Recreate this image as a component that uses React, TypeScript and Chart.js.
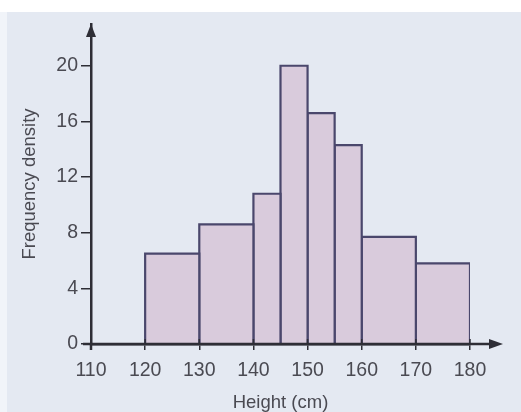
import { useEffect, useRef } from 'react';
import { Chart, registerables } from 'chart.js';

Chart.register(...registerables);

// ---- data ----
const binEdges = [120, 130, 140, 145, 150, 155, 160, 170, 180];
const densities = [6.5, 8.6, 10.8, 20, 16.6, 14.3, 7.7, 5.8];
const xTicks = [110, 120, 130, 140, 150, 160, 170, 180];
const yTicks = [0, 4, 8, 12, 16, 20];
const xTitle = 'Height (cm)';
const yTitle = 'Frequency density';

// ---- styles ----
const W = 521;
const H = 412;
const PANEL = '#e4e9f2';
const BAR_FILL = '#d9cbdc';
const BAR_EDGE = '#4a476c';
const AXIS = '#2e2e36';
const TEXT = '#4a4a52';
const FONT = "'Liberation Sans', Arial, sans-serif";

const decor = {
  id: 'decor',
  beforeDraw(chart: any) {
    const c = chart.ctx;
    c.save();
    c.fillStyle = '#ffffff';
    c.fillRect(0, 0, W, H);
    c.fillStyle = '#f1f4f9';
    c.fillRect(0, 12, 7, H - 12);
    c.fillStyle = PANEL;
    c.fillRect(7, 12, W - 7, H - 12);
    c.restore();
  },
  afterDraw(chart: any) {
    const c = chart.ctx;
    const x = chart.scales.x;
    const y = chart.scales.y;
    const x0 = x.getPixelForValue(x.min);
    const y0 = y.getPixelForValue(0);
    const top = chart.chartArea.top;
    const right = chart.chartArea.right;
    c.save();
    c.strokeStyle = AXIS;
    c.fillStyle = AXIS;
    c.lineWidth = 2.5;
    // x-axis line extension
    c.beginPath();
    c.moveTo(x0 - 8, y0);
    c.lineTo(right + 22, y0);
    c.stroke();
    // y-axis extension below
    c.beginPath();
    c.moveTo(x0, y0);
    c.lineTo(x0, y0 + 6);
    c.stroke();
    // x tick marks above the axis
    c.lineWidth = 1.5;
    xTicks.forEach((t) => {
      const px = x.getPixelForValue(t);
      c.beginPath();
      c.moveTo(px, y0 - 5);
      c.lineTo(px, y0);
      c.stroke();
    });
    // x arrow
    c.beginPath();
    c.moveTo(right + 33, y0);
    c.lineTo(right + 19, y0 - 5);
    c.lineTo(right + 19, y0 + 5);
    c.closePath();
    c.fill();
    // y arrow
    c.beginPath();
    c.moveTo(x0, top);
    c.lineTo(x0 - 5, top + 13);
    c.lineTo(x0 + 5, top + 13);
    c.closePath();
    c.fill();
    c.restore();
  },
};

export default function App() {
  const ref = useRef<HTMLCanvasElement | null>(null);

  useEffect(() => {
    if (!ref.current) return;
    const datasets = densities.map((d, i) => ({
      data: [
        { x: binEdges[i], y: 0 },
        { x: binEdges[i], y: d },
        { x: binEdges[i + 1], y: d },
        { x: binEdges[i + 1], y: 0 },
      ],
      showLine: true,
      fill: 'origin',
      backgroundColor: BAR_FILL,
      borderColor: BAR_EDGE,
      borderWidth: 2.2,
      borderJoinStyle: 'miter',
      pointRadius: 0,
      pointHoverRadius: 0,
      tension: 0,
    }));

    const chart = new Chart(ref.current, {
      type: 'scatter',
      data: { datasets: datasets as any },
      plugins: [decor],
      options: {
        animation: false,
        responsive: false,
        events: [],
        layout: { padding: { left: 0, right: 51, top: 24, bottom: 0 } },
        plugins: {
          legend: { display: false },
          tooltip: { enabled: false },
        },
        scales: {
          x: {
            type: 'linear',
            min: 110,
            max: 180,
            afterFit: (s: any) => {
              s.height = 68;
            },
            afterBuildTicks: (s: any) => {
              s.ticks = xTicks.map((v) => ({ value: v }));
            },
            grid: {
              drawOnChartArea: false,
              drawTicks: true,
              tickLength: 6,
              tickColor: AXIS,
              lineWidth: 1.5,
              z: 1,
            },
            border: { display: true, color: AXIS, width: 2.5, z: 1 },
            ticks: {
              color: TEXT,
              font: { family: FONT, size: 19.5 },
              padding: 9,
              maxRotation: 0,
              autoSkip: false,
            },
            title: {
              display: true,
              text: xTitle,
              color: TEXT,
              font: { family: FONT, size: 18.5 },
              padding: { top: 0, bottom: -2 },
            },
          },
          y: {
            type: 'linear',
            min: 0,
            max: 23,
            afterFit: (s: any) => {
              s.width = 91;
            },
            afterBuildTicks: (s: any) => {
              s.ticks = yTicks.map((v) => ({ value: v }));
            },
            grid: {
              drawOnChartArea: false,
              drawTicks: true,
              tickLength: 10,
              tickColor: AXIS,
              lineWidth: 1.5,
              z: 1,
            },
            border: { display: true, color: AXIS, width: 2.5, z: 1 },
            ticks: {
              color: TEXT,
              font: { family: FONT, size: 19.5 },
              padding: 3,
              autoSkip: false,
            },
            title: {
              display: true,
              text: yTitle,
              color: TEXT,
              font: { family: FONT, size: 18.5 },
              padding: { top: 19, bottom: 0 },
            },
          },
        },
      },
    });
    return () => chart.destroy();
  }, []);

  return (
    <div style={{ position: 'fixed', left: 0, top: 0, width: W, height: H }}>
      <canvas ref={ref} width={W} height={H} style={{ display: 'block' }} />
    </div>
  );
}
